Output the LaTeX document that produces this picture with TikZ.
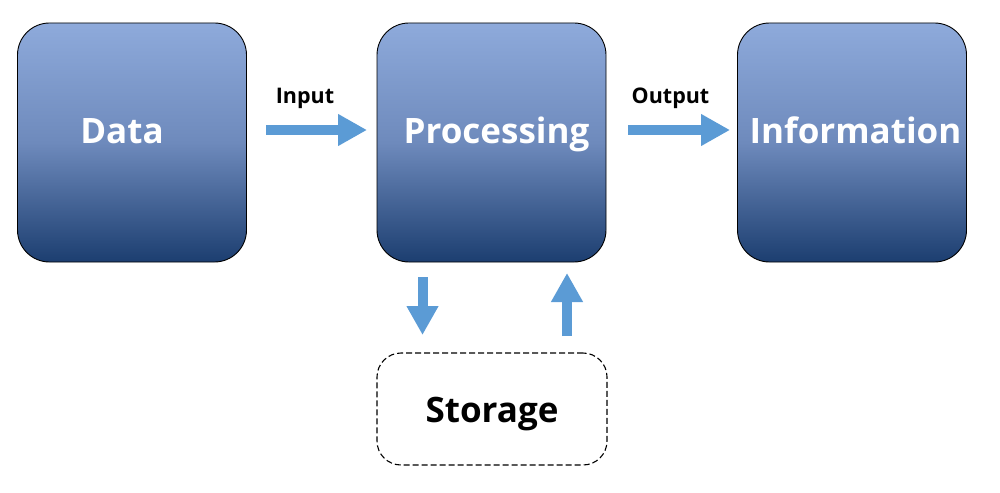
\documentclass[tikz,border=0pt]{standalone}
\usepackage{fontspec}
\setmainfont{Open Sans}
\usetikzlibrary{arrows.meta}
\definecolor{boxtop}{RGB}{142,170,219}
\definecolor{boxmid}{RGB}{110,138,188}
\definecolor{boxbot}{RGB}{28,62,112}
\definecolor{arrowblue}{RGB}{91,155,213}
\tikzset{
  procbox/.style={draw=black, line width=0.9pt, rounded corners=32pt,
    top color=boxtop, bottom color=boxbot, middle color=boxmid,
    minimum width=229pt, minimum height=239pt, inner sep=0pt},
  storebox/.style={draw=black, dash pattern=on 6pt off 3pt, line width=1.1pt, rounded corners=24pt,
    minimum width=230pt, minimum height=112pt, inner sep=0pt},
  bigtxt/.style={font=\bfseries\fontsize{35}{38}\selectfont, anchor=base, inner sep=0pt},
  blockarrow/.style={draw=arrowblue, line width=10pt,
    -{Triangle[length=29pt,width=30pt]}},
  lbl/.style={font=\bfseries\fontsize{21.5}{24}\selectfont, inner sep=0pt, anchor=base}
}
\begin{document}
\begin{tikzpicture}[x=1pt,y=-1pt]
\useasboundingbox (0,0) rectangle (1000,492);
\node[procbox] (data) at (132,142.5) {};
\node[procbox] (proc) at (491.5,142.5) {};
\node[procbox] (info) at (852,142.5) {};
\node[storebox] (stor) at (492,409) {};
\node[bigtxt, text=white] (tdata) at (122,143) {Data};
\node[bigtxt, text=white] (tproc) at (496.5,143) {Processing};
\node[bigtxt, text=white] (tinfo) at (855.5,143) {Information};
\node[bigtxt] (tstor) at (492,422) {Storage};
\node[lbl] (lin) at (305,104) {Input};
\node[lbl] (lout) at (670.5,104) {Output};
\coordinate (a1) at (266,130);
\coordinate (a2) at (367,130);
\coordinate (b1) at (628,130);
\coordinate (b2) at (730,130);
\coordinate (c1) at (422.5,277);
\coordinate (c2) at (422.5,335);
\coordinate (d1) at (567,336);
\coordinate (d2) at (567,273);
\draw[blockarrow] (a1) -- (a2);
\draw[blockarrow] (b1) -- (b2);
\draw[blockarrow] (c1) -- (c2);
\draw[blockarrow] (d1) -- (d2);
\end{tikzpicture}
\end{document}
